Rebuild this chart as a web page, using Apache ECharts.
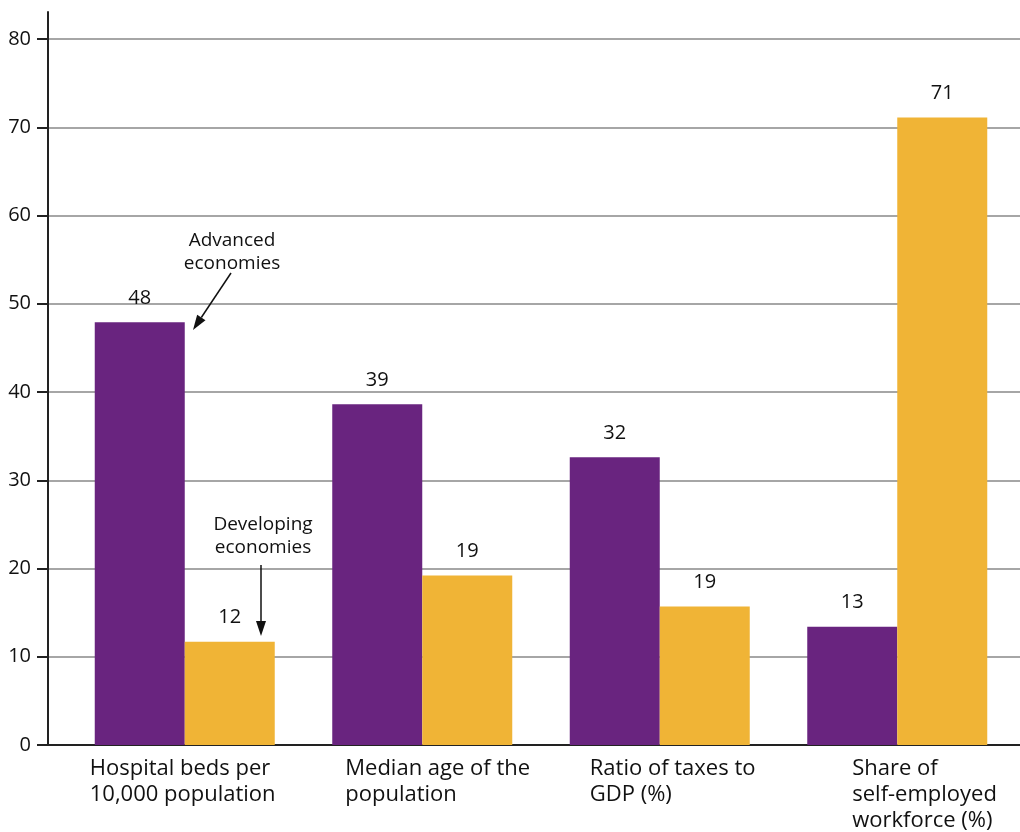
<!DOCTYPE html>
<html>
<head>
<meta charset="utf-8">
<script src="https://cdn.jsdelivr.net/npm/echarts@6/dist/echarts.min.js"></script>
<style>
  html, body { margin: 0; padding: 0; background: #fff; }
  #chart { width: 1020px; height: 832px; }
</style>
</head>
<body>
<div id="chart"></div>
<script>
// 数据
const categories = ['Hospital beds per\n10,000 population', 'Median age of the\npopulation', 'Ratio of taxes to\nGDP (%)', 'Share of\nself-employed\nworkforce (%)']
const advanced = [47.9, 38.6, 32.6, 13.4]
const developing = [11.7, 19.2, 15.7, 71.1]
const advancedLabels = ['48', '39', '32', '13']
const developingLabels = ['12', '19', '19', '71']

const FONT = '"Open Sans", "Noto Sans", sans-serif'
const labelBoxes = [190, 154, 140, 90]

// 箭头 (line + head)
function arrow(x1, y1, x2, y2) {
  const a = Math.atan2(y2 - y1, x2 - x1)
  const len = 15, half = 5
  const bx = x2 - len * Math.cos(a), by = y2 - len * Math.sin(a)
  const px = -Math.sin(a) * half, py = Math.cos(a) * half
  return [
    { type: 'line', shape: { x1: x1, y1: y1, x2: bx, y2: by }, style: { stroke: '#111', lineWidth: 1.5 }, z: 10 },
    { type: 'polygon', shape: { points: [[x2, y2], [bx + px, by + py], [bx - px, by - py]] }, style: { fill: '#111' }, z: 10 }
  ]
}

const rich = {}
labelBoxes.forEach((w, i) => {
  rich['c' + i] = { width: w, align: 'left', fontSize: 22, lineHeight: 26, fontFamily: FONT, color: '#111' }
})

let myChart = echarts.init(document.getElementById('chart'))
myChart.setOption({
  animation: false,
  grid: [
    { left: 48, right: 0, top: 39, bottom: 87, outerBoundsMode: 'none' },   // 网格线
    { left: 66, right: 4, top: 39, bottom: 87, outerBoundsMode: 'none' },   // 柱子
    { left: 48, right: 0, top: 12, bottom: 87, outerBoundsMode: 'none' }    // y轴线
  ],
  xAxis: [
    {
      gridIndex: 0, type: 'value', min: 0, max: 1,
      axisLine: { show: true, lineStyle: { color: '#222', width: 2 } },
      axisTick: { show: false }, axisLabel: { show: false }, splitLine: { show: false }
    },
    {
      gridIndex: 1, type: 'category', data: categories,
      axisLine: { show: false }, axisTick: { show: false },
      axisLabel: {
        interval: 0, margin: 11,
        formatter: (v, i) => '{c' + i + '|' + v + '}',
        rich: rich
      }
    },
    { gridIndex: 2, type: 'value', show: false }
  ],
  yAxis: [
    {
      gridIndex: 0, type: 'value', min: 0, max: 80, interval: 10,
      axisLine: { show: false },
      axisTick: { show: true, length: 11, lineStyle: { color: '#222', width: 2 } },
      axisLabel: { margin: 17, fontSize: 20, color: '#111', fontFamily: FONT },
      splitLine: { lineStyle: { color: '#888', width: 1.5 } }
    },
    { gridIndex: 1, type: 'value', min: 0, max: 80, show: false },
    {
      gridIndex: 2, type: 'value', min: 0, max: 1,
      axisLine: { show: true, lineStyle: { color: '#222', width: 2 } },
      axisTick: { show: false }, axisLabel: { show: false }, splitLine: { show: false }
    }
  ],
  series: [
    {
      name: 'Advanced economies', type: 'bar', xAxisIndex: 1, yAxisIndex: 1,
      data: advanced, barWidth: 90, barGap: 0,
      itemStyle: { color: '#69247f' },
      label: {
        show: true, position: 'top', distance: 14,
        formatter: p => advancedLabels[p.dataIndex],
        fontSize: 20, color: '#111', fontFamily: FONT
      }
    },
    {
      name: 'Developing economies', type: 'bar', xAxisIndex: 1, yAxisIndex: 1,
      data: developing, barWidth: 90, barGap: 0,
      itemStyle: { color: '#f0b436' },
      label: {
        show: true, position: 'top', distance: 14,
        formatter: p => developingLabels[p.dataIndex],
        fontSize: 20, color: '#111', fontFamily: FONT
      }
    }
  ],
  graphic: [
    {
      type: 'text', x: 232, y: 229, z: 10,
      style: { text: 'Advanced\neconomies', align: 'center', verticalAlign: 'top', fontSize: 19, lineHeight: 23, fill: '#111', fontFamily: FONT }
    },
    {
      type: 'text', x: 263, y: 513, z: 10,
      style: { text: 'Developing\neconomies', align: 'center', verticalAlign: 'top', fontSize: 19, lineHeight: 23, fill: '#111', fontFamily: FONT }
    }
  ].concat(arrow(231, 273, 193, 330), arrow(261, 565, 261, 636))
})
</script>
</body>
</html>
